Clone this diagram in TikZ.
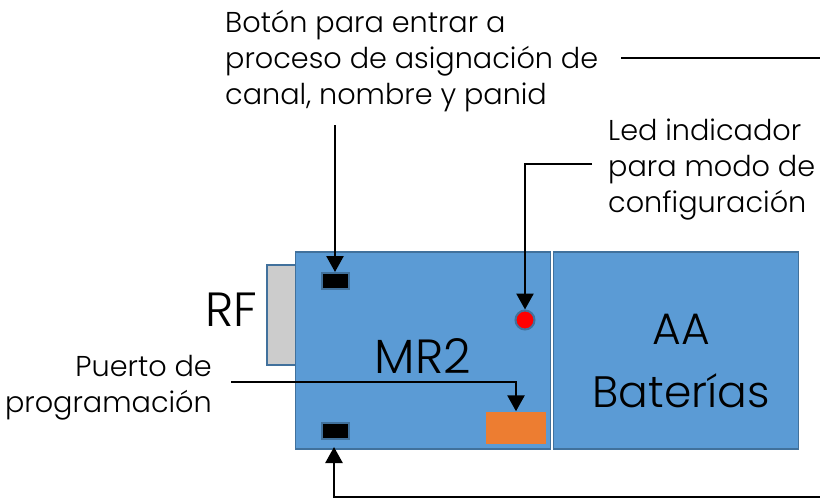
\documentclass[tikz,border=0pt]{standalone}
\usepackage{fontspec}
\setmainfont{Poppins}[UprightFont=* Light]
\usetikzlibrary{arrows.meta}
\definecolor{boardblue}{HTML}{5B9BD5}
\definecolor{boardline}{HTML}{41719C}
\definecolor{portorange}{HTML}{ED7D31}
\tikzset{
	board/.style={draw=boardline, line width=1.2pt, fill=boardblue, minimum height=197pt, inner sep=0pt},
	switchbox/.style={draw=boardline, line width=2pt, fill=black, minimum width=27pt, minimum height=16pt, inner sep=0pt},
	lead/.style={line width=2.6pt, -{Triangle[length=16pt, width=17pt]}},
	plainlead/.style={line width=2.6pt},
	note/.style={font=\fontsize{28.7}{36}\selectfont, inner sep=0pt, text=black},
	bigtext/.style={font=\fontsize{48}{62}\selectfont, inner sep=0pt, align=center}
}
\begin{document}
\begin{tikzpicture}[x=1pt, y=-1pt]
	\useasboundingbox (0,0) rectangle (820,498);

	% Antenna block goes under the board
	\node[draw=boardline, line width=1.5pt, fill=black!20, minimum width=30pt, minimum height=100pt, inner sep=0pt] (rf) at (282,315) {};
	\node[board, minimum width=255pt] (mrtwo) at (423,350.5) {};
	\node[board, minimum width=245pt] (batt) at (676,350.5) {};

	% Parts on the board
	\node[switchbox] (btn) at (335.5,281) {};
	\node[switchbox] (prog) at (335,430.5) {};
	\node[circle, draw=boardline, line width=2pt, fill=red, minimum size=19pt, inner sep=0pt] (led) at (525,320) {};
	\node[fill=portorange, minimum width=60pt, minimum height=32pt, inner sep=0pt] (port) at (516,427.5) {};

	% Big labels
	\node[bigtext] (rftext) at (231,310) {RF};
	\node[bigtext] (mrtext) at (423,356) {MR2};
	\node[bigtext, font=\fontsize{44}{63}\selectfont] (batttext) at (681,360.5) {AA\\Baterías};

	% Small labels
	\node[note, anchor=north west, align=left] (btntext) at (225,10) {Botón para entrar a\\proceso de asignación de\\canal, nombre y panid};
	\node[note, anchor=north west, align=left] (ledtext) at (608,119) {Led indicador\\para modo de\\configuración};
	\node[note, anchor=north east, align=right] (progtext) at (212,355) {Puerto de\\programación};

	% Free ends and corners of the leads
	\coordinate (btnstart) at (335,125);
	\coordinate (topleft) at (621,58);
	\coordinate (topright) at (820,58);
	\coordinate (ledstart) at (592,164);
	\coordinate (progstart) at (231,382);
	\coordinate (bottomright) at (820,497);

	% Leads
	\draw[lead] (btnstart) -- (btn.north -| btnstart);
	\draw[plainlead] (topleft) -- (topright);
	\draw[lead] (ledstart) -| (led.north);
	\draw[lead] (progstart) -| (port.north);
	\draw[lead] (bottomright) -| (334,447);

\end{tikzpicture}
\end{document}
